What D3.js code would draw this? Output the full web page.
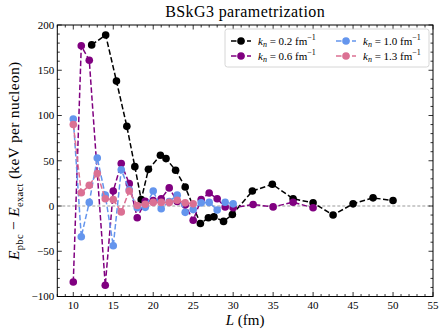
<!DOCTYPE html>
<html><head><meta charset="utf-8">
<script src="https://cdn.jsdelivr.net/npm/d3@7"></script>
<style>body{margin:0;background:#fff}svg{display:block}</style>
</head><body><div id="chart"></div>
<script>
const xDomain = [8, 55];
const yDomain = [-100, 200];
const xTicks = [10, 15, 20, 25, 30, 35, 40, 45, 50, 55];
const yTicks = [-100, -50, 0, 50, 100, 150, 200];

const kLabels = ["0.2", "0.6", "1.0", "1.3"];
const colors = ["#000000", "#800080", "#6495ED", "#DB7093"];

const L_k02 = [12.3, 14.05, 15.4, 16.7, 17.7, 18.5, 19.4, 20.9, 21.6, 22.8, 24.0, 25.9, 26.9, 27.6, 28.8, 29.9, 32.4, 34.9, 37.5, 40.0, 42.5, 45.0, 47.5, 50.0];
const E_k02 = [178, 189, 138, 88, 43.5, 7, 40.5, 56, 52.4, 39.5, 21, -19.4, -13, -12, -17, -9.4, 16.5, 24, 8, 3.5, -10, 2.4, 9, 6];

const L_k06 = [10, 11, 12, 14, 15, 16, 17, 18, 19, 20, 21, 22, 23, 24, 25, 26, 27, 28, 29, 30, 32.5, 35, 37.5, 40];
const E_k06 = [-84, 177, 161, -87.6, 16.5, 47, 24.7, -13, 5.3, 6, 8, 20, 5, 1, -15.8, 7.2, 14.3, 8, -1, -2, 1.7, -1, 4.2, -2];

const L_k10 = [10, 11, 12, 13, 14, 15, 16, 17, 18, 19, 20, 21, 22, 23, 24, 25, 26, 27, 28, 29, 30];
const E_k10 = [96, -34, 4, 53, 12, -44, 40, 18, -2, -1.5, 16.5, -3, 5, 12, -7, -4, 3.5, 4, -4.5, 4.2, 2.4];

const L_k13 = [10, 11, 12, 13, 14, 15, 16, 17, 18, 19, 20, 21, 22, 23, 24, 25];
const E_k13 = [90, 14.7, 22.8, 35.8, 8, 7, -6.5, 16.5, 0.5, 2, 4, 4, 4, 6.4, 3.5, 2.4];

const seriesL = [L_k02, L_k06, L_k10, L_k13];
const seriesE = [E_k02, E_k06, E_k10, E_k13];

const W = 439, H = 330;
const m = {left: 57.3, right: 6, top: 25, bottom: 33.5};
const svg = d3.select("#chart").append("svg").attr("width", W).attr("height", H);
const x = d3.scaleLinear().domain(xDomain).range([m.left, W - m.right]);
const y = d3.scaleLinear().domain(yDomain).range([H - m.bottom, m.top]);
const font = "'Liberation Serif', 'DejaVu Serif', serif";

// zero line
svg.append("line").attr("x1", x(xDomain[0])).attr("x2", x(xDomain[1]))
  .attr("y1", y(0)).attr("y2", y(0))
  .attr("stroke", "#999").attr("stroke-width", 1).attr("stroke-dasharray", "3,2");

// series
const line = d3.line().x(d => x(d[0])).y(d => y(d[1]));
seriesL.forEach((Ls, i) => {
  const pts = Ls.map((l, j) => [l, seriesE[i][j]]);
  const g = svg.append("g");
  g.append("path").datum(pts).attr("d", line).attr("fill", "none")
    .attr("stroke", colors[i]).attr("stroke-width", 1.5).attr("stroke-dasharray", "5.5,2.5");
  g.selectAll("circle").data(pts).enter().append("circle")
    .attr("cx", d => x(d[0])).attr("cy", d => y(d[1])).attr("r", 3.8).attr("fill", colors[i]);
});

// frame
svg.append("rect").attr("x", x(xDomain[0])).attr("y", y(yDomain[1]))
  .attr("width", x(xDomain[1]) - x(xDomain[0])).attr("height", y(yDomain[0]) - y(yDomain[1]))
  .attr("fill", "none").attr("stroke", "#000").attr("stroke-width", 1);

// ticks inward
const xMinor = d3.range(8, 56, 1);
const yMinor = d3.range(-100, 201, 10);
const tk = svg.append("g").attr("stroke", "#000").attr("stroke-width", 0.8);
const yB = y(yDomain[0]), yT = y(yDomain[1]), xL = x(xDomain[0]), xR = x(xDomain[1]);
xMinor.forEach(v => {
  const len = xTicks.includes(v) ? 4.5 : 2.5;
  tk.append("line").attr("x1", x(v)).attr("x2", x(v)).attr("y1", yB).attr("y2", yB - len);
  tk.append("line").attr("x1", x(v)).attr("x2", x(v)).attr("y1", yT).attr("y2", yT + len);
});
yMinor.forEach(v => {
  const len = yTicks.includes(v) ? 4.5 : 2.5;
  tk.append("line").attr("y1", y(v)).attr("y2", y(v)).attr("x1", xL).attr("x2", xL + len);
  tk.append("line").attr("y1", y(v)).attr("y2", y(v)).attr("x1", xR).attr("x2", xR - len);
});

// tick labels
svg.append("g").selectAll("text").data(xTicks).enter().append("text")
  .attr("x", d => x(d)).attr("y", yB + 12.5).attr("text-anchor", "middle")
  .attr("font-family", font).attr("font-size", 11).text(d => d);
svg.append("g").selectAll("text").data(yTicks).enter().append("text")
  .attr("x", xL - 3).attr("y", d => y(d) + 3.8).attr("text-anchor", "end")
  .attr("font-family", font).attr("font-size", 11).text(d => d < 0 ? "\u2212" + Math.abs(d) : d);

// title
svg.append("text").attr("x", (xL + xR) / 2).attr("y", 17).attr("text-anchor", "middle")
  .attr("font-family", font).attr("font-size", 16).attr("letter-spacing", 0.4).text("BSkG3 parametrization");

// x label
const xl = svg.append("text").attr("x", (xL + xR) / 2).attr("y", 325).attr("text-anchor", "middle")
  .attr("font-family", font).attr("font-size", 15);
xl.append("tspan").attr("font-style", "italic").text("L");
xl.append("tspan").text(" (fm)");

// y label
const yl = svg.append("text").attr("transform", `translate(19,${(yT + yB) / 2}) rotate(-90)`)
  .attr("text-anchor", "middle").attr("font-family", font).attr("font-size", 15.5).attr("letter-spacing", 0.3);
yl.append("tspan").attr("font-style", "italic").text("E");
yl.append("tspan").attr("font-size", 10.5).attr("dy", 4).text("pbc");
yl.append("tspan").attr("dy", -4).text(" \u2212 ");
yl.append("tspan").attr("font-style", "italic").text("E");
yl.append("tspan").attr("font-size", 10.5).attr("dy", 4).text("exact");
yl.append("tspan").attr("dy", -4).text(" (keV per nucleon)");

// legend
const lg = svg.append("g");
lg.append("rect").attr("x", 225).attr("y", 29).attr("width", 204).attr("height", 38).attr("rx", 2.5)
  .attr("fill", "#fff").attr("fill-opacity", 0.8).attr("stroke", "#ccc").attr("stroke-width", 0.8);
const legPos = [[231, 41], [231, 56], [336, 41], [336, 56]];
kLabels.forEach((k, i) => {
  const [lx, ly] = legPos[i];
  lg.append("line").attr("x1", lx).attr("x2", lx + 20).attr("y1", ly).attr("y2", ly)
    .attr("stroke", colors[i]).attr("stroke-width", 1.5).attr("stroke-dasharray", "5.5,2.5");
  lg.append("circle").attr("cx", lx + 10).attr("cy", ly).attr("r", 3.8).attr("fill", colors[i]);
  const t = lg.append("text").attr("x", lx + 27).attr("y", ly + 3.5)
    .attr("font-family", font).attr("font-size", 11);
  t.append("tspan").attr("font-style", "italic").text("k");
  t.append("tspan").attr("font-style", "italic").attr("font-size", 8).attr("dy", 2).text("n");
  t.append("tspan").attr("dy", -2).text(" = " + k + " fm");
  t.append("tspan").attr("font-size", 8).attr("dy", -4.5).text("\u22121");
});
</script></body></html>
